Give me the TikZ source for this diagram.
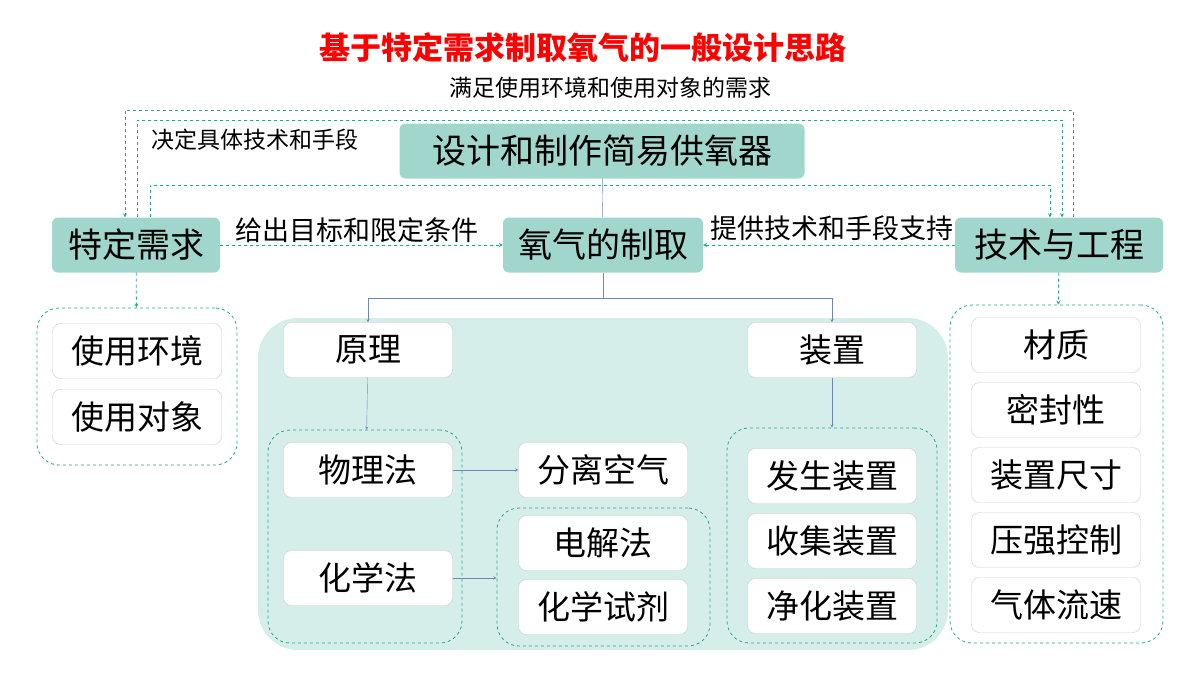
\documentclass[tikz,border=0pt]{standalone}
\usepackage{fontspec}
\setmainfont{Noto Sans CJK SC}
\usetikzlibrary{arrows,positioning,fit}
\definecolor{tealbox}{RGB}{160,214,204}
\definecolor{tealbg}{RGB}{214,238,233}
\definecolor{tealdash}{RGB}{40,165,143}
\definecolor{linkblue}{RGB}{110,134,184}
\tikzstyle{topic} = [rounded corners=6pt, fill=tealbox, minimum height=55pt, font=\fontsize{34}{34}\selectfont, text=black]
\tikzstyle{item} = [rounded corners=8pt, draw=gray!40, fill=white, minimum width=169pt, minimum height=55pt, font=\fontsize{33}{33}\selectfont]
\tikzstyle{grp} = [rounded corners=22pt, draw=tealdash, dashed, thick, inner sep=0pt]
\tikzstyle{dasharrow} = [tealdash, dashed, thick, ->, >=stealth]
\tikzstyle{link} = [linkblue, ->, >=stealth]
\tikzstyle{note} = [font=\fontsize{23}{23}\selectfont]

\begin{document}
\begin{tikzpicture}[x=1pt, y=-1pt]
    \useasboundingbox [fill=white] (0,0) rectangle (1200,675);
    \fill [tealbg] [rounded corners=40pt] (258,318) rectangle (948,650);

    \node [font=\fontsize{31}{31}\selectfont\bfseries, text=red] (title) at (583,48) {基于特定需求制取氧气的一般设计思路};
    \node [note] (satisfy) at (610,88) {满足使用环境和使用对象的需求};
    \node [note] (decide) at (255,140) {决定具体技术和手段};

    \node [topic, minimum width=405pt] (design) at (602,151) {设计和制作简易供氧器};
    \node [topic, minimum width=168pt] (need) at (136,245) {特定需求};
    \node [topic, minimum width=200pt] (oxygen) at (603,245) {氧气的制取};
    \node [topic, minimum width=208pt] (tech) at (1059,245) {技术与工程};
    \node [note, font=\fontsize{27}{27}\selectfont] (goal) at (357,230) {给出目标和限定条件};
    \node [note, font=\fontsize{27}{27}\selectfont] (support) at (832,228) {提供技术和手段支持};

    % left column
    \node [item] (env) at (137,351) {使用环境};
    \node [item] (obj) at (137,417) {使用对象};
    \node [grp, fit={(37,308) (237,465)}] (envgrp) {};

    % right column
    \node [item] (mat) at (1056,345) {材质};
    \node [item] (seal) at (1056,410) {密封性};
    \node [item] (size) at (1056,475) {装置尺寸};
    \node [item] (press) at (1056,540) {压强控制};
    \node [item] (flow) at (1056,605) {气体流速};
    \node [grp, fit={(950,305) (1163,643)}] (techgrp) {};

    % principle branch
    \node [item] (principle) at (368,350) {原理};
    \node [item] (phys) at (368,470) {物理法};
    \node [item] (chem) at (368,578) {化学法};
    \node [grp, fit={(268,430) (462,643)}] (methgrp) {};
    \node [item] (air) at (603,470) {分离空气};
    \node [item] (elec) at (603,543) {电解法};
    \node [item] (reag) at (603,607) {化学试剂};
    \node [grp, fit={(497,508) (710,646)}] (chemgrp) {};

    % apparatus branch
    \node [item] (device) at (832,350) {装置};
    \node [item] (gen) at (832,476) {发生装置};
    \node [item] (coll) at (832,541) {收集装置};
    \node [item] (puri) at (832,606) {净化装置};
    \node [grp, fit={(727,428) (937,643)}] (devgrp) {};

    % solid links
    \coordinate (split) at (603,298);
    \draw [linkblue] (design) -- (oxygen);
    \draw [link] (oxygen) -- (split) -| (principle);
    \draw [link] (split) -| (device);
    \draw [link] (principle) -- (methgrp);
    \draw [link] (device) -- (devgrp);
    \draw [link] (phys) -- (air);
    \draw [link] (chem) -- (chem -| chemgrp.west);

    % dashed links
    \draw [dasharrow] (need) -- (oxygen);
    \draw [dasharrow] (tech) -- (oxygen);
    \draw [dasharrow] (need) -- (envgrp);
    \draw [dasharrow] (tech) -- (techgrp);
    \draw [dasharrow] ([xshift=14pt]tech.north) -- (1073,110) -- (125,110) -- ([xshift=-11pt]need.north);
    \draw [dasharrow] ([xshift=1pt]need.north) -- (137,120) -- (1062,120) -- ([xshift=3pt]tech.north);
    \draw [dasharrow] ([xshift=14pt]need.north) -- (150,185) -- (1050,185) -- ([xshift=-9pt]tech.north);
\end{tikzpicture}
\end{document}
